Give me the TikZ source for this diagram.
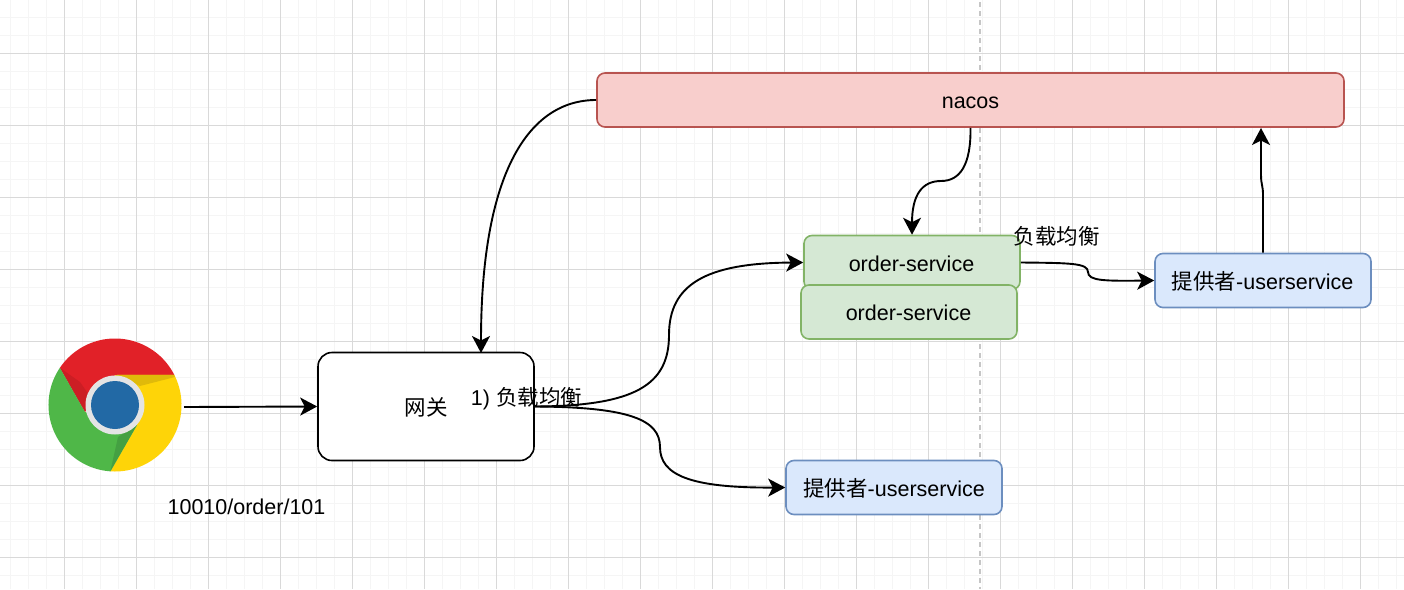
\documentclass[tikz,border=0pt]{standalone}
\usepackage{fontspec}
\setmainfont{Liberation Sans}
\newfontfamily\cjkf{Noto Sans CJK SC}
\usetikzlibrary{arrows.meta}
\definecolor{gridmaj}{HTML}{D9D9D9}
\definecolor{gridmin}{HTML}{F5F5F5}
\definecolor{guidecol}{HTML}{C6C6C6}
\tikzset{
  x=1pt,y=-1pt,
  box/.style={draw,rounded corners=8pt,line width=1.6pt,minimum width=216pt,minimum height=54pt,inner sep=0pt,font=\fontsize{21.5}{25}\selectfont,anchor=center,text height=17.5pt,text depth=0pt},
  redbox/.style={box,fill={rgb,255:red,248;green,206;blue,204},draw={rgb,255:red,184;green,84;blue,80},minimum width=747pt},
  greenbox/.style={box,fill={rgb,255:red,213;green,232;blue,212},draw={rgb,255:red,130;green,179;blue,102}},
  bluebox/.style={box,fill={rgb,255:red,218;green,232;blue,252},draw={rgb,255:red,108;green,142;blue,191}},
  gatebox/.style={box,fill=white,draw=black,minimum height=108pt,rounded corners=14pt},
  lbl/.style={font=\fontsize{21.5}{25}\selectfont,inner sep=0pt},
  conn/.style={line width=1.9pt,-{Stealth[length=17pt,width=18pt,inset=4.5pt]}},
}
\begin{document}
\begin{tikzpicture}
\useasboundingbox (0,0) rectangle (1404,589);
\fill[white] (0,0) rectangle (1404,589);
\foreach \i in {0,...,77} \draw[gridmin,line width=1pt] ({10.5+18*\i},0) -- ({10.5+18*\i},589);
\foreach \i in {0,...,32} \draw[gridmin,line width=1pt] (0,{17.5+18*\i}) -- (1404,{17.5+18*\i});
\foreach \i in {0,...,18} \draw[gridmaj,line width=1pt] ({64.5+72*\i},0) -- ({64.5+72*\i},589);
\foreach \i in {0,...,7} \draw[gridmaj,line width=1pt] (0,{53.5+72*\i}) -- (1404,{53.5+72*\i});
\coordinate (guideA) at (979.5,2);
\coordinate (guideB) at (979.5,589);
\draw[guidecol,line width=2pt,dash pattern=on 5pt off 4pt] (guideA) -- (guideB);

% Chrome logo
\node[circle,minimum size=133pt,inner sep=0pt] (chrome) at (115,405) {};
\begin{scope}[shift={(115,405)},x=1pt,y=1pt]
  \fill[white] (0,0) circle (66.5pt);
  \fill[fill={rgb,255:red,225;green,33;blue,40}] (27:66.5pt) arc[start angle=27,end angle=146,radius=66.5pt] -- (-30,-7) -- (0,30) -- cycle;
  \fill[fill={rgb,255:red,204;green,30;blue,36}] (146:66.5pt) -- (-30,-7) -- (-26,10) -- (-35,23) -- cycle;
  \fill[fill={rgb,255:red,254;green,212;blue,8}] (27:66.5pt) arc[start angle=27,end angle=-94,radius=66.5pt] -- (22,-20) -- (0,30) -- cycle;
  \fill[fill={rgb,255:red,224;green,186;blue,10}] (0,30) -- (27:66.5pt) -- (60,28) -- (25,19) -- cycle;
  \fill[fill={rgb,255:red,79;green,183;blue,72}] (146:66.5pt) arc[start angle=146,end angle=266,radius=66.5pt] -- (22,-20) -- (-30,-7) -- cycle;
  \fill[fill={rgb,255:red,68;green,160;blue,66}] (266:66.5pt) -- (22,-20) -- (3,-32) -- cycle;
  \fill[fill={rgb,255:red,228;green,228;blue,228}] (0,0) circle (29.5pt);
  \fill[fill={rgb,255:red,34;green,105;blue,165}] (0,0) circle (24pt);
\end{scope}

\node[gatebox] (gw) at (426,406.5) {{\cjkf 网关}};
\node[redbox] (nacos) at (970.5,100) {nacos};
\node[greenbox] (ordA) at (912,262.5) {\hspace{-1pt}order-service};
\node[greenbox] (ordB) at (909,312) {\hspace{-1pt}order-service};
\node[bluebox] (userA) at (1263,280.5) {\hspace{-1pt}{\cjkf 提供者}-userservice};
\node[bluebox] (userB) at (894,487.5) {{\cjkf 提供者}-userservice};

\coordinate (chromeOut) at (184,407);
\draw[conn] (chromeOut) -- (gw.west);
\draw[conn] (gw.east) .. controls (635,406) and (669,385) .. (669,335) .. controls (669,285) and (705,263) .. (ordA.west);
\draw[conn] (gw.east) .. controls (630,407) and (660,420) .. (660,447) .. controls (660,475) and (690,488) .. (userB.west);
\coordinate (gwIn) at (481,353);
\draw[conn] (nacos.west) .. controls (530,100) and (481,170) .. (gwIn);
\draw[conn] (nacos.south) .. controls (971,165) and (960,181) .. (941,181) .. controls (922,181) and (912,195) .. (ordA.north);
\draw[conn] (ordA.east) .. controls (1070,263) and (1088,263) .. (1088,272) .. controls (1088,281) and (1105,281) .. (userA.west);
\coordinate (nacosIn) at (1261,128);
\draw[conn] (userA.north) -- (1263,195) .. controls (1263,185) and (1261,185) .. (1261,175) -- (nacosIn);

\node[lbl] (addr) at (246.5,506.5) {10010/order/101};
\node[lbl] (lbA) at (526.5,399) {1) {\cjkf 负载均衡}};
\node[lbl] (lbB) at (1056.5,236) {{\cjkf 负载均衡}};
\end{tikzpicture}
\end{document}
